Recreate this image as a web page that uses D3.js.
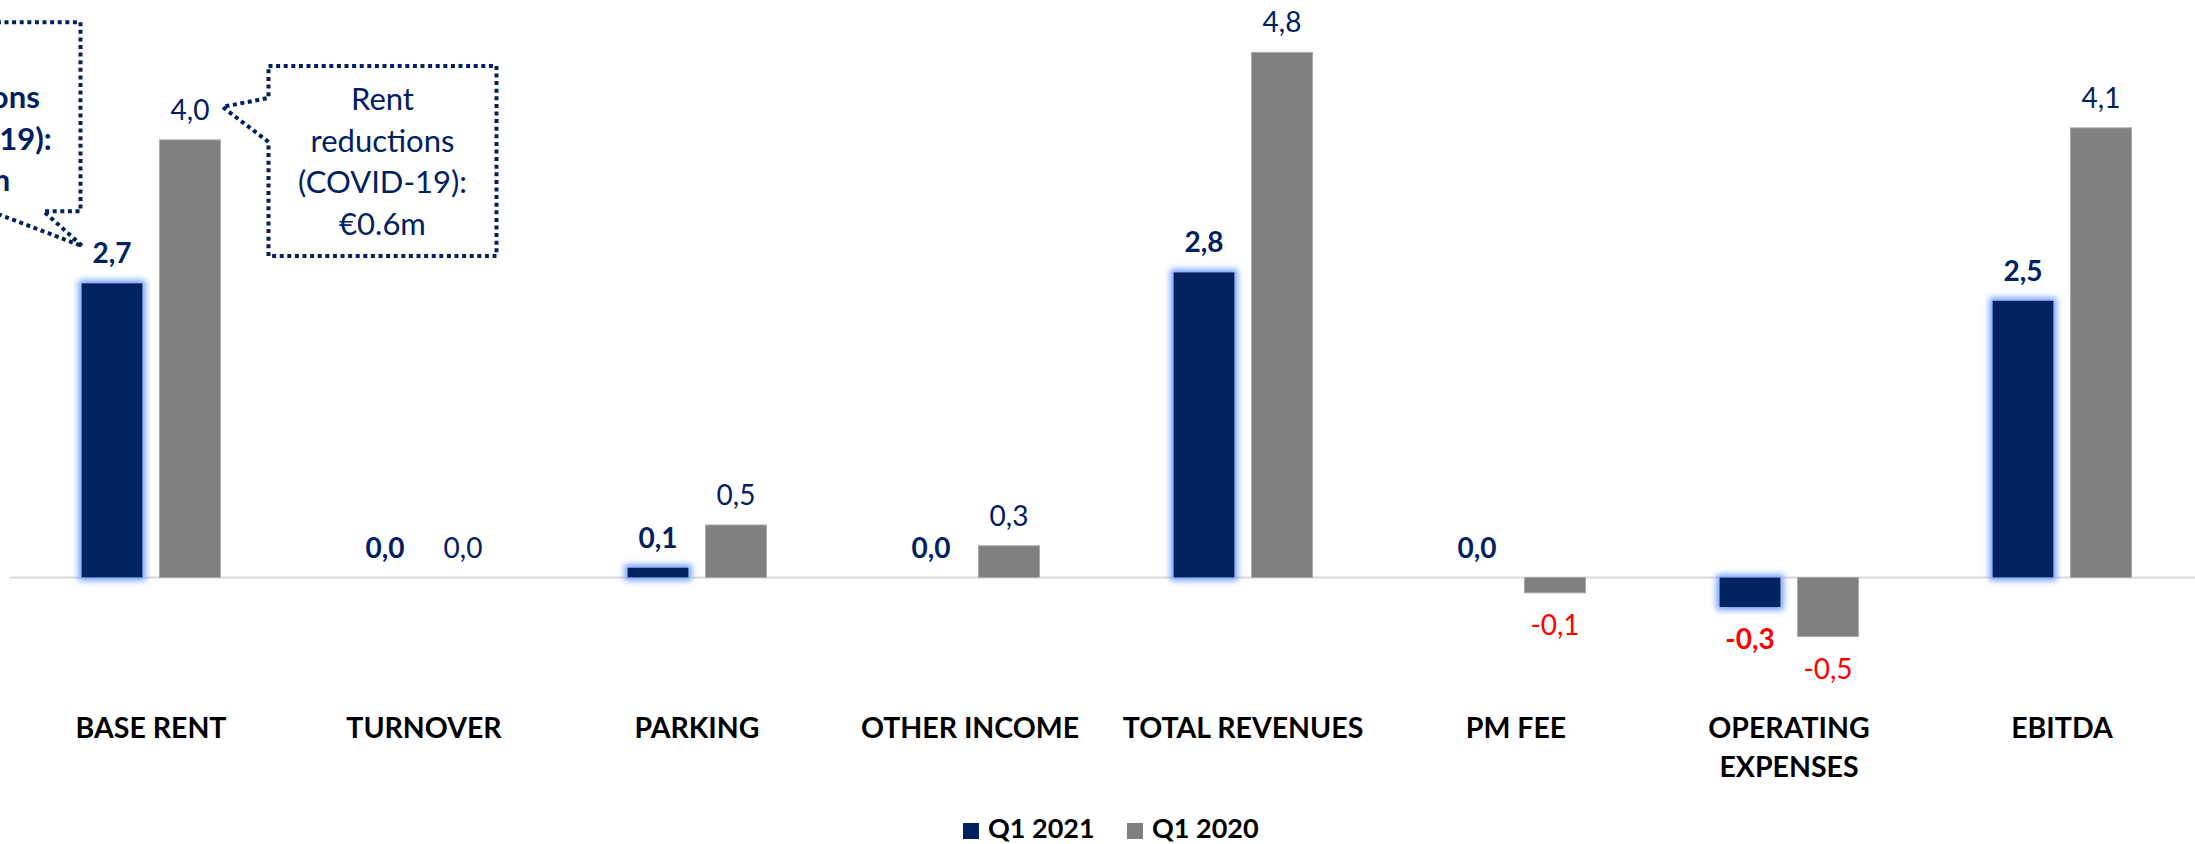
<!DOCTYPE html>
<html>
<head>
<meta charset="utf-8">
<script src="https://cdn.jsdelivr.net/npm/d3@7"></script>
<style>
  html, body { margin: 0; padding: 0; background: #fff; }
  svg { display: block; font-family: Lato, "Noto Sans", sans-serif; }
</style>
</head>
<body>
<svg id="chart" width="2195" height="844"></svg>
<script>
const categories = ["BASE RENT", "TURNOVER", "PARKING", "OTHER INCOME", "TOTAL REVENUES", "PM FEE", "OPERATING\nEXPENSES", "EBITDA"];
const seriesNames = ["Q1 2021", "Q1 2020"];
const q12021 = [2.69, 0.0, 0.09, 0.0, 2.79, 0.0, -0.27, 2.53];
const q12020 = [4.0, 0.0, 0.48, 0.29, 4.8, -0.14, -0.54, 4.11];
const calloutLeft = ["Rent", "reductions", "(COVID-19):", "€1.1m"];
const calloutRight = ["Rent", "reductions", "(COVID-19):", "€0.6m"];

const navy = "#002060";
const grey = "#808080";
const red = "#ff0000";

const svg = d3.select("#chart");

const data = categories.map((c, i) => ({
  cat: c,
  values: [
    { series: seriesNames[0], value: q12021[i] },
    { series: seriesNames[1], value: q12020[i] }
  ]
}));

const x0 = d3.scaleBand().domain(categories).range([14.5, 14.5 + 8 * 273]);
const x1 = d3.scaleBand().domain(seriesNames).range([0, x0.bandwidth()])
  .paddingInner(0.218).paddingOuter(0.859);
const y = d3.scaleLinear().domain([-1, 5]).range([577.5 + 109.4, 577.5 - 5 * 109.4]);

// glow for the Q1 2021 bars
const defs = svg.append("defs");
const glow = defs.append("filter").attr("id", "glow")
  .attr("filterUnits", "userSpaceOnUse")
  .attr("x", 0).attr("y", 0).attr("width", 2195).attr("height", 844);
glow.append("feMorphology").attr("in", "SourceAlpha").attr("operator", "dilate").attr("radius", 3).attr("result", "dil");
glow.append("feGaussianBlur").attr("in", "dil").attr("stdDeviation", 3).attr("result", "blur");
glow.append("feFlood").attr("flood-color", "#6f9cf7").attr("flood-opacity", 1).attr("result", "col");
glow.append("feComposite").attr("in", "col").attr("in2", "blur").attr("operator", "in").attr("result", "g");
const merge = glow.append("feMerge");
merge.append("feMergeNode").attr("in", "g");
merge.append("feMergeNode").attr("in", "SourceGraphic");

// zero line
svg.append("line")
  .attr("x1", 10).attr("x2", 2195)
  .attr("y1", y(0)).attr("y2", y(0))
  .attr("stroke", "#d9d9d9").attr("stroke-width", 2);

const groups = svg.selectAll("g.cat")
  .data(data)
  .join("g")
  .attr("class", "cat")
  .attr("transform", d => `translate(${x0(d.cat)},0)`);

groups.selectAll("rect")
  .data(d => d.values.filter(v => v.value !== 0))
  .join("rect")
  .attr("x", d => x1(d.series))
  .attr("width", x1.bandwidth())
  .attr("y", d => y(Math.max(0, d.value)))
  .attr("height", d => Math.abs(y(d.value) - y(0)))
  .attr("fill", d => d.series === seriesNames[0] ? navy : grey)
  .attr("stroke", d => d.series === seriesNames[0] ? "none" : "#a8a8a8")
  .attr("stroke-width", 1)
  .attr("filter", d => d.series === seriesNames[0] ? "url(#glow)" : null);

const fmt = v => d3.format(".1f")(v).replace(".", ",").replace("\u2212", "-");

groups.selectAll("text.val")
  .data(d => d.values)
  .join("text")
  .attr("class", "val")
  .attr("x", d => x1(d.series) + x1.bandwidth() / 2)
  .attr("y", d => d.value < 0 ? y(d.value) + 42 : y(d.value) - 20)
  .attr("text-anchor", "middle")
  .style("font-size", "28px")
  .style("font-weight", d => d.series === seriesNames[0] ? "bold" : "normal")
  .attr("fill", d => d.value < 0 ? red : navy)
  .text(d => fmt(d.value));

// category labels
groups.append("text")
  .attr("class", "cat-label")
  .attr("text-anchor", "middle")
  .style("font-size", "28.5px")
  .style("font-weight", "bold")
  .attr("fill", "#000")
  .selectAll("tspan")
  .data(d => d.cat.split("\n"))
  .join("tspan")
  .attr("x", x0.bandwidth() / 2)
  .attr("y", (d, i) => 738 + i * 39)
  .text(d => d);

// callouts
function callout(lines, box, wedge, bold) {
  const g = svg.append("g");
  g.append("path")
    .attr("d", wedge)
    .attr("fill", "#fff")
    .attr("stroke", navy)
    .attr("stroke-width", 4)
    .attr("stroke-dasharray", "4 3.6");
  g.append("text")
    .attr("text-anchor", "middle")
    .style("font-size", "31px")
    .style("font-weight", bold ? "bold" : "normal")
    .attr("fill", navy)
    .selectAll("tspan")
    .data(lines)
    .join("tspan")
    .attr("x", (box.left + box.right) / 2)
    .attr("y", (d, i) => box.top + 44 + i * 41.7)
    .text(d => d);
}

// left callout, pointing at the Q1 2021 base rent label
{
  const barLeft = x0(categories[0]) + x1(seriesNames[0]);
  const tip = [barLeft + 1, y(q12021[0]) - 37];
  const right = tip[0] - 2, top = tip[1] - 224, bottom = tip[1] - 35, left = right - 228;
  const path = `M${left},${top}H${right}V${bottom}H${right - 37}L${tip[0]},${tip[1]}L${right - 90},${bottom}H${left}Z`;
  callout(calloutLeft, { left, right, top }, path, true);
}

// right callout, pointing at the Q1 2020 base rent label
{
  const barRight = x0(categories[0]) + x1(seriesNames[1]) + x1.bandwidth();
  const tip = [barRight + 2, y(q12020[0]) - 33];
  const left = tip[0] + 46, top = tip[1] - 41, right = left + 228, bottom = top + 190;
  const path = `M${left},${top}H${right}V${bottom}H${left}V${tip[1] + 35}L${tip[0]},${tip[1]}L${left},${tip[1] - 9}Z`;
  callout(calloutRight, { left, right, top }, path, false);
}

// legend
const legend = svg.append("g").attr("transform", "translate(963,823)");
const legendItems = legend.selectAll("g")
  .data(seriesNames)
  .join("g")
  .attr("transform", (d, i) => `translate(${i * 164},0)`);
legendItems.append("rect")
  .attr("width", 16).attr("height", 16)
  .attr("fill", (d, i) => i === 0 ? navy : grey);
legendItems.append("text")
  .attr("x", 25).attr("y", 15)
  .style("font-size", "27px")
  .style("font-weight", "bold")
  .attr("fill", "#000")
  .text(d => d);
</script>
</body>
</html>
